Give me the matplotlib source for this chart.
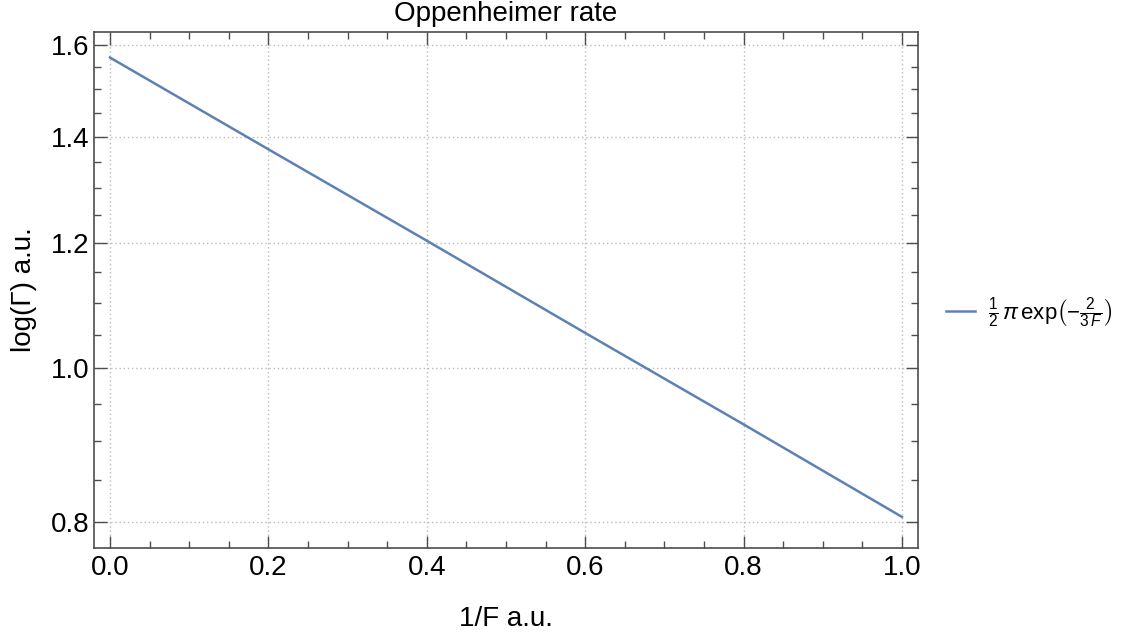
import numpy as np
import matplotlib
matplotlib.use("Agg")
import matplotlib.pyplot as plt
from matplotlib.ticker import FixedLocator, FormatStrFormatter, NullFormatter

plt.rcParams["font.family"] = ["Liberation Sans", "DejaVu Sans"]
plt.rcParams["mathtext.fontset"] = "custom"
plt.rcParams["mathtext.rm"] = "Liberation Sans"
plt.rcParams["mathtext.it"] = "Liberation Sans:italic"
plt.rcParams["mathtext.bf"] = "Liberation Sans:bold"

# values
inv_f = [0.0, 0.2, 0.4, 0.6, 0.8, 1.0]
rate = [1.571, 1.375, 1.204, 1.053, 0.922, 0.806]
y_major = [0.8, 1.0, 1.2, 1.4, 1.6]
x_major = [0.0, 0.2, 0.4, 0.6, 0.8, 1.0]
LINE_COLOR = "#5E81B5"
FRAME = "#4d4d4d"

fig = plt.figure(figsize=(11.24, 6.32), dpi=100)
ax = fig.add_axes([0.0836, 0.1329, 0.7331, 0.8165])
ax.set_yscale("log")
ax.plot(inv_f, rate, color=LINE_COLOR, lw=1.8,
        label=r"$\frac{1}{2}\,\pi\,\mathrm{exp}\left(-\frac{2}{3\,F}\right)$")

ax.set_xlim(-0.0202, 1.0202)
ax.set_ylim(0.7704, 1.6305)
ax.xaxis.set_major_locator(FixedLocator(x_major))
ax.xaxis.set_minor_locator(FixedLocator(np.arange(0, 1.0001, 0.05)))
ax.yaxis.set_major_locator(FixedLocator(y_major))
ax.yaxis.set_minor_locator(FixedLocator(np.arange(0.8, 1.6001, 0.05)))
ax.xaxis.set_major_formatter(FormatStrFormatter("%.1f"))
ax.yaxis.set_major_formatter(FormatStrFormatter("%.1f"))
ax.yaxis.set_minor_formatter(NullFormatter())

ax.tick_params(which="both", direction="in", top=True, right=True,
               color=FRAME, labelsize=20, width=1)
ax.tick_params(which="major", length=9, pad=3)
ax.tick_params(axis="x", which="major", pad=5)
ax.tick_params(which="minor", length=5)
for s in ax.spines.values():
    s.set_color(FRAME)
    s.set_linewidth(1.2)

ax.grid(True, which="major", color="#bbbbbb", linestyle=(0, (1, 2)), lw=1)

ax.set_xlabel("1/F a.u.", fontsize=20, labelpad=18)
ax.set_ylabel("log(Γ) a.u.", fontsize=20, labelpad=10)
ax.set_title("Oppenheimer rate", fontsize=20, pad=8)

ax.legend(loc="center left", bbox_to_anchor=(1.01, 0.457), frameon=False,
          fontsize=16, handlelength=1.3, handletextpad=0.6)

fig.savefig("out.png", dpi=100)
